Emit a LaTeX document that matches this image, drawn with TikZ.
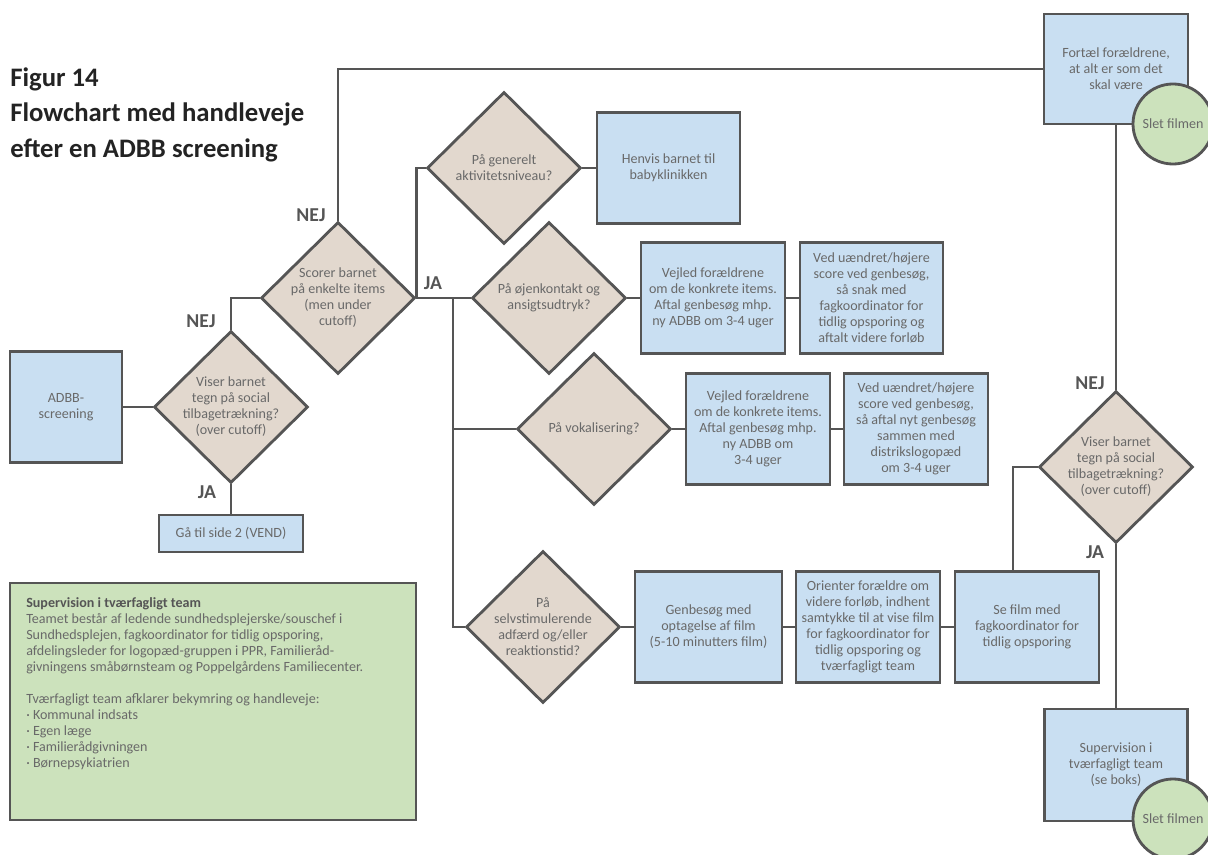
\documentclass[tikz,border=0pt]{standalone}
\usepackage{fontspec}
\setmainfont{Carlito}
\usepackage{tikz}
\usetikzlibrary{shapes.geometric, positioning, calc}

\definecolor{boxblue}{RGB}{201,223,242}
\definecolor{diabeige}{RGB}{226,216,206}
\definecolor{notegreen}{RGB}{204,226,188}
\definecolor{linegray}{RGB}{85,85,85}
\definecolor{textgray}{RGB}{105,105,105}
\definecolor{titlegray}{RGB}{35,35,35}

\begin{document}
\begin{tikzpicture}[x=0.025cm, y=-0.025cm,
  every node/.style={font=\fontsize{10}{11.4}\selectfont, text=textgray},
  line/.style={draw=linegray, line width=2pt},
  box/.style={rectangle, draw=linegray, line width=2pt, fill=boxblue, align=center,
    inner sep=1pt, minimum width=3.6cm, minimum height=2.775cm},
  decision/.style={diamond, draw=linegray, line width=2pt, fill=diabeige, align=center,
    inner sep=-0.3cm, minimum width=3.85cm, minimum height=3.8cm},
  endcircle/.style={circle, draw=linegray, line width=2pt, fill=notegreen,
    inner sep=0pt, minimum size=2cm},
  answer/.style={font=\fontsize{14}{16}\selectfont\bfseries, text=linegray},
  title/.style={font=\fontsize{19}{25.5}\selectfont\bfseries, text=titlegray, align=left, inner sep=0pt}
]
\useasboundingbox (0,0) rectangle (1208,854);

% Title
\node[title, anchor=north west] (title) at (10,67) {Figur 14\\Flowchart med handleveje\\efter en ADBB screening};

% Start and first decisions
\node[box, minimum width=2.8cm] (adbb) at (66,407) {ADBB-\\screening};
\node[decision] (d1) at (231,407) {Viser barnet\\tegn på social\\tilbagetrækning?\\(over cutoff)};
\node[box, minimum height=0.925cm] (vend) at (231,533.5) {Gå til side 2 (VEND)};
\node[decision] (d2) at (338,298) {Scorer barnet\\på enkelte items\\(men under\\cutoff)};

% Branches
\node[decision] (d3) at (504,168) {På generelt\\aktivitetsniveau?};
\node[box, minimum width=3.575cm] (henvis) at (668.5,168) {Henvis barnet til\\babyklinikken};

\node[decision] (d4) at (549,298) {På øjenkontakt og\\ansigtsudtryk?};
\node[box] (vejled1) at (713,298) {Vejled forældrene\\om de konkrete items.\\Aftal genbesøg mhp.\\ny ADBB om 3-4 uger};
\node[box, minimum width=3.575cm] (ved1) at (871.5,298) {Ved uændret/højere\\score ved genbesøg,\\så snak med\\fagkoordinator for\\tidlig opsporing og\\aftalt videre forløb};

\node[decision] (d5) at (594,429) {På vokalisering?};
\node[box] (vejled2) at (758,429) {Vejled forældrene\\om de konkrete items.\\Aftal genbesøg mhp.\\ny ADBB om\\3-4 uger};
\node[box] (ved2) at (916,429) {Ved uændret/højere\\score ved genbesøg,\\så aftal nyt genbesøg\\sammen med\\distrikslogopæd\\om 3-4 uger};

\node[decision] (d6) at (543,627) {På\\selvstimulerende\\adfærd og/eller\\reaktionstid?};
\node[box, minimum width=3.675cm] (genbesog) at (708.5,627) {Genbesøg med\\optagelse af film\\(5-10 minutters film)};
\node[box] (orienter) at (868,627) {Orienter forældre om\\videre forløb, indhent\\samtykke til at vise film\\for fagkoordinator for\\tidlig opsporing og\\tværfagligt team};
\node[box] (sefilm) at (1027,627) {Se film med\\fagkoordinator for\\tidlig opsporing};

% Right column
\node[box, minimum height=2.75cm] (fortael) at (1116,69) {Fortæl forældrene,\\at alt er som det\\skal være};
\node[decision] (d7) at (1116,467) {Viser barnet\\tegn på social\\tilbagetrækning?\\(over cutoff)};
\node[box, minimum width=3.575cm, minimum height=2.8cm] (superv) at (1116,765) {Supervision i\\tværfagligt team\\(se boks)};

% Connectors
\coordinate (split) at (453,298);
\draw[line] (adbb.east) -- (d1.west);
\draw[line] (d1.north) |- (d2.west);
\draw[line] (d1.south) -- (vend.north);
\draw[line] (d2.north) |- (fortael.west);
\draw[line] (d2.east) -- (d4.west);
\draw[line] (d2.east) |- (d3.west);
\draw[line] (split) |- (d6.west);
\draw[line] (split |- d5.west) -- (d5.west);
\draw[line] (d3.east) -- (henvis.west);
\draw[line] (d4.east) -- (vejled1.west);
\draw[line] (vejled1.east) -- (ved1.west);
\draw[line] (d5.east) -- (vejled2.west);
\draw[line] (vejled2.east) -- (ved2.west);
\draw[line] (d6.east) -- (genbesog.west);
\draw[line] (genbesog.east) -- (orienter.west);
\draw[line] (orienter.east) -- (sefilm.west);
\draw[line] ([xshift=-0.35cm]sefilm.north) |- (d7.west);
\draw[line] (fortael.south) -- (d7.north);
\draw[line] (d7.south) -- (superv.north);

% Answers
\node[answer] (nej1) at (201,321) {NEJ};
\node[answer] (ja1) at (207,492) {JA};
\node[answer] (nej2) at (311,215) {NEJ};
\node[answer] (ja2) at (433,283) {JA};
\node[answer] (nej3) at (1090,383) {NEJ};
\node[answer] (ja3) at (1095,552) {JA};

% End points
\node[endcircle] (slet1) at (1173,124) {Slet filmen};
\node[endcircle] (slet2) at (1173,819) {Slet filmen};

% Supervision note
\node[rectangle, draw=linegray, line width=2pt, fill=notegreen, minimum width=10.15cm, minimum height=5.925cm] (supbox) at (213,701.5) {};
\node[anchor=north west, align=left, inner sep=0pt] (suptext) at (26,597) {{\color{linegray}\bfseries Supervision i tværfagligt team}\\
Teamet består af ledende sundhedsplejerske/souschef i\\
Sundhedsplejen, fagkoordinator for tidlig opsporing,\\
afdelingsleder for logopæd-gruppen i PPR, Familieråd-\\
givningens småbørnsteam og Poppelgårdens Familiecenter.\\[11.4pt]
Tværfagligt team afklarer bekymring og handleveje:\\
· Kommunal indsats\\
· Egen læge\\
· Familierådgivningen\\
· Børnepsykiatrien};
\end{tikzpicture}
\end{document}
